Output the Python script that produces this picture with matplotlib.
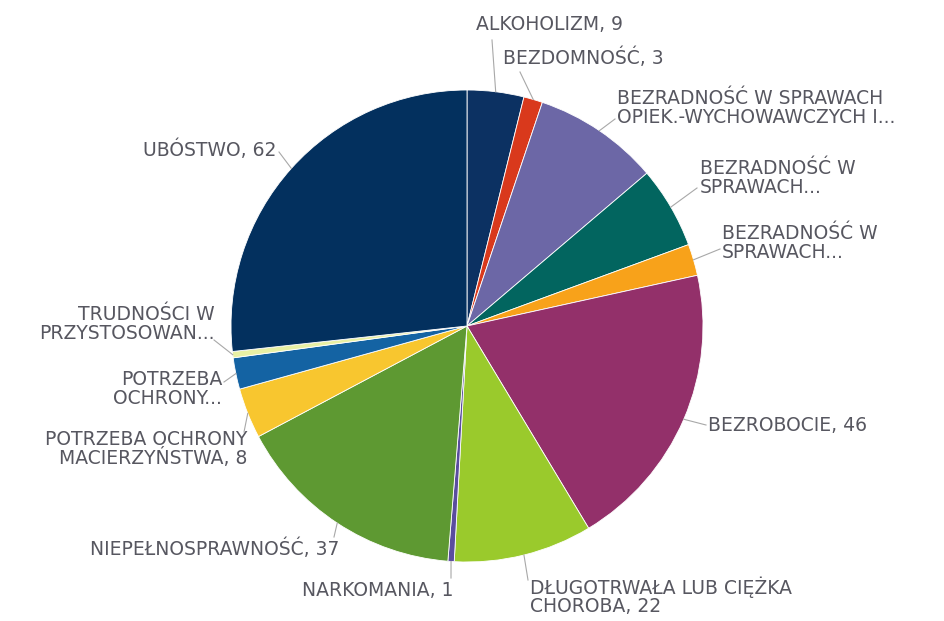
import matplotlib
matplotlib.use("Agg")
import matplotlib.pyplot as plt
import numpy as np

categories = [
    "ALKOHOLIZM", "BEZDOMNOŚĆ", "BEZRADNOŚĆ W SPRAWACH\nOPIEK.-WYCHOWAWCZYCH I...",
    "BEZRADNOŚĆ W\nSPRAWACH...", "BEZRADNOŚĆ W\nSPRAWACH...", "BEZROBOCIE",
    "DŁUGOTRWAŁA LUB CIĘŻKA\nCHOROBA", "NARKOMANIA", "NIEPEŁNOSPRAWNOŚĆ",
    "POTRZEBA OCHRONY\nMACIERZYŃSTWA", "POTRZEBA\nOCHRONY...",
    "TRUDNOŚCI W\nPRZYSTOSOWAN...", "UBÓSTWO",
]
values = [9, 3, 20, 13, 5, 46, 22, 1, 37, 8, 5, 1, 62]
show_value = [True, True, False, False, False, True, True, True, True, True,
              False, False, True]
colors = ["#0c3162", "#d9391c", "#6c67a6", "#02655f", "#f8a21a", "#93306a",
          "#9aca2c", "#5a4d9e", "#5e9932", "#f8c62f", "#1463a3", "#e8f0a4",
          "#03305e"]

# label anchor (pixel x, pixel y, horizontal alignment) and leader end (pixel)
label_pos = [
    (476, 24, "left"), (503, 58, "left"), (617, 108, "left"), (700, 178, "left"),
    (722, 243, "left"), (708, 425, "left"), (530, 596, "left"), (453, 590, "right"),
    (339, 549, "right"), (247, 449, "right"), (222, 389, "right"),
    (215, 324, "right"), (276, 150, "right"),
]
leader_end = [
    (492, 40), (520, 72), (615, 119), (697, 188), (720, 249), (706, 425),
    (528, 580), (451, 578), (334, 537), (244, 432), (224, 382), (214, 340),
    (279, 152),
]

W, H = 944, 621
CX, CY, R = 467, 326, 236


def px(x, y):
    return (x - CX) / R, (CY - y) / R


fig = plt.figure(figsize=(W / 100, H / 100), dpi=100)
ax = fig.add_axes([0, 0, 1, 1])
wedges, _ = ax.pie(values, colors=colors, startangle=90, counterclock=False,
                   radius=1, wedgeprops=dict(edgecolor="white", linewidth=0.6))
ax.set_xlim(-CX / R, (W - CX) / R)
ax.set_ylim(-(H - CY) / R, CY / R)
ax.set_aspect("equal")
ax.axis("off")

for w, cat, v, show, (lx, ly, ha), (ex, ey) in zip(
        wedges, categories, values, show_value, label_pos, leader_end):
    mid = np.deg2rad((w.theta1 + w.theta2) / 2)
    x0, y0 = np.cos(mid), np.sin(mid)
    txt = f"{cat}, {v}" if show else cat
    ax.plot([x0, px(ex, ey)[0]], [y0, px(ex, ey)[1]], color="#a8a8a8", lw=0.8)
    ax.text(*px(lx, ly), txt, ha=ha, va="center", fontsize=13.5,
            color="#575760", linespacing=0.95, multialignment=ha)

fig.savefig("out.png", dpi=100)
